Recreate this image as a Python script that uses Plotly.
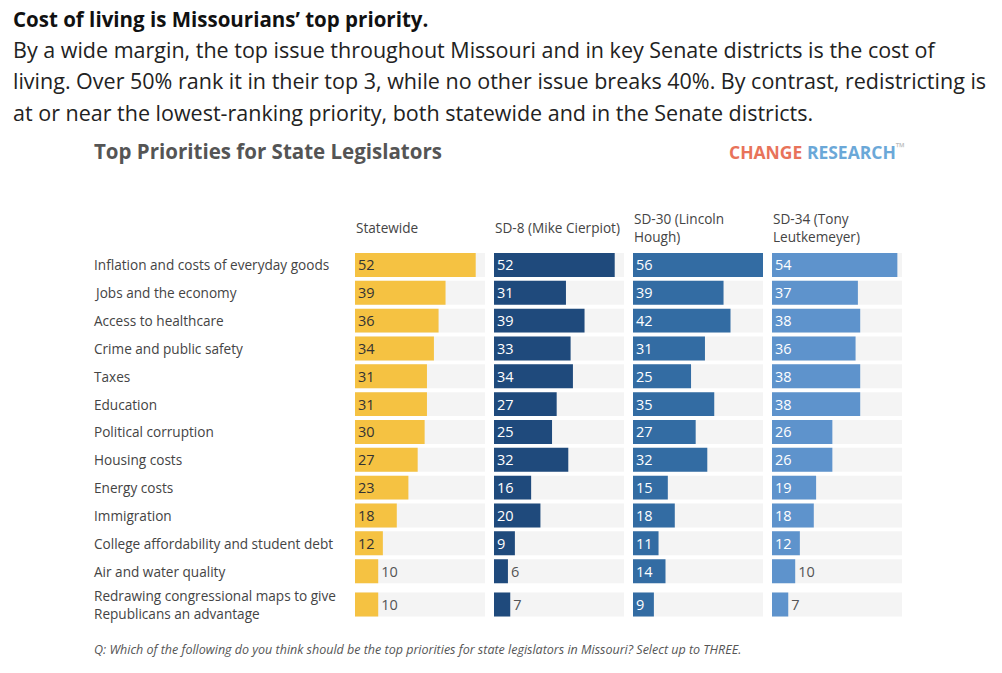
import plotly.graph_objects as go

# ---------------- data ----------------
categories = [
    "Inflation and costs of everyday goods",
    "Jobs and the economy",
    "Access to healthcare",
    "Crime and public safety",
    "Taxes",
    "Education",
    "Political corruption",
    "Housing costs",
    "Energy costs",
    "Immigration",
    "College affordability and student debt",
    "Air and water quality",
    "Redrawing congressional maps to give<br>Republicans an advantage",
]
series_names = ["Statewide", "SD-8 (Mike Cierpiot)", "SD-30 (Lincoln<br>Hough)", "SD-34 (Tony<br>Leutkemeyer)"]
statewide = [52, 39, 36, 34, 31, 31, 30, 27, 23, 18, 12, 10, 10]
sd8 = [52, 31, 39, 33, 34, 27, 25, 32, 16, 20, 9, 6, 7]
sd30 = [56, 39, 42, 31, 25, 35, 27, 32, 15, 18, 11, 14, 9]
sd34 = [54, 37, 38, 36, 38, 38, 26, 26, 19, 18, 12, 10, 7]
axis_max = 56

headline = "Cost of living is Missourians’ top priority."
body_lines = [
    "By a wide margin, the top issue throughout Missouri and in key Senate districts is the cost of",
    "living. Over 50% rank it in their top 3, while no other issue breaks 40%. By contrast, redistricting is",
    "at or near the lowest-ranking priority, both statewide and in the Senate districts.",
]
chart_title = "Top Priorities for State Legislators"
footnote = "Q: Which of the following do you think should be the top priorities for state legislators in Missouri? Select up to THREE."

# ---------------- style ----------------
W, H = 1002, 673
OFF = 8  # page body margin
FONT = "Open Sans"
colors = ["#F5C242", "#1F4A7C", "#336CA3", "#5E93CC"]
inside_text_colors = ["#333333", "#FFFFFF", "#FFFFFF", "#FFFFFF"]
track_color = "#F4F4F4"
panel_left, panel_w, panel_gap = 355, 130, 9
plot_top, plot_bottom = 251, 618.5
label_x = 92
text_left = 10.5
bar_font = 14.5
extra_gap_per_line = 0.2
bar_width = 0.86


def px_x(p):
    return (p - OFF) / W


def px_y(p):
    return 1 - (p - OFF) / H


# row positions: one step per row, a little extra before multi-line labels
row_pos = []
pos = 0.0
for k, c in enumerate(categories):
    if k > 0:
        pos += 1 + extra_gap_per_line * c.count("<br>")
    row_pos.append(pos)

fig = go.Figure()
all_series = [statewide, sd8, sd30, sd34]
for i, vals in enumerate(all_series):
    ax = "x" if i == 0 else f"x{i+1}"
    fig.add_trace(go.Bar(
        y=row_pos, x=[axis_max] * len(categories), orientation="h", width=bar_width,
        marker=dict(color=track_color, line=dict(width=0)),
        xaxis=ax, yaxis="y", hoverinfo="skip", showlegend=False,
    ))
    positions, tcolors = [], []
    for v in vals:
        bar_px = v / axis_max * panel_w
        text_px = 7.5 * len(str(v)) + 10
        if bar_px >= text_px:
            positions.append("inside")
            tcolors.append(inside_text_colors[i])
        else:
            positions.append("outside")
            tcolors.append("#555555")
    fig.add_trace(go.Bar(
        y=row_pos, x=vals, orientation="h", width=bar_width,
        marker=dict(color=colors[i], line=dict(width=0)),
        text=[str(v) for v in vals], textposition=positions,
        insidetextanchor="start", textangle=0,
        constraintext="none", cliponaxis=False,
        textfont=dict(family=FONT, size=bar_font, color=tcolors),
        customdata=categories,
        xaxis=ax, yaxis="y", showlegend=False,
        hovertemplate="%{customdata}: %{x}<extra></extra>",
    ))

layout = dict(
    width=W, height=H,
    margin=dict(l=0, r=0, t=0, b=0),
    paper_bgcolor="white", plot_bgcolor="white",
    barmode="overlay",
    font=dict(family=FONT, color="#444444"),
    yaxis=dict(
        domain=[px_y(plot_bottom), px_y(plot_top)],
        range=[row_pos[-1] + 0.5, -0.5],
        showticklabels=False, showgrid=False,
        zeroline=False, showline=False, ticks="",
    ),
)
for i in range(4):
    key = "xaxis" if i == 0 else f"xaxis{i+1}"
    x0 = panel_left + i * (panel_w + panel_gap)
    layout[key] = dict(
        domain=[px_x(x0), px_x(x0 + panel_w)], range=[0, axis_max],
        showticklabels=False, showgrid=False, zeroline=False, showline=False,
        ticks="", anchor="y",
    )
fig.update_layout(**layout)

ann = []
ann.append(dict(text=f"<b>{headline}</b>", x=px_x(text_left), y=px_y(19), xref="paper", yref="paper",
                xanchor="left", yanchor="middle", showarrow=False,
                font=dict(family=FONT, size=20.5, color="#111111")))
for k, line in enumerate(body_lines):
    ann.append(dict(text=line, x=px_x(text_left), y=px_y(49 + 31.5 * k), xref="paper", yref="paper",
                    xanchor="left", yanchor="middle", showarrow=False,
                    font=dict(family=FONT, size=21.5, color="#222222")))
ann.append(dict(text=f"<b>{chart_title}</b>", x=px_x(label_x), y=px_y(151), xref="paper", yref="paper",
                xanchor="left", yanchor="middle", showarrow=False,
                font=dict(family=FONT, size=20.5, color="#555555")))
ann.append(dict(text="<b><span style='color:#E8735A'>CHANGE</span> <span style='color:#6BA8D8'>RESEARCH</span></b><sup style='color:#BBBBBB'>™</sup>",
                x=px_x(727), y=px_y(151), xref="paper", yref="paper",
                xanchor="left", yanchor="middle", showarrow=False,
                font=dict(family=FONT, size=17.5)))
for i, name in enumerate(series_names):
    x0 = panel_left + i * (panel_w + panel_gap)
    ann.append(dict(text=name, x=px_x(x0 - 1), y=px_y(228), xref="paper", yref="paper",
                    xanchor="left", yanchor="middle", align="left", showarrow=False,
                    font=dict(family=FONT, size=13.6, color="#444444")))
for c, p in zip(categories, row_pos):
    ann.append(dict(text=c, x=px_x(label_x), y=p, xref="paper", yref="y",
                    xanchor="left", yanchor="middle", align="left", showarrow=False,
                    font=dict(family=FONT, size=13.6, color="#444444")))
ann.append(dict(text=f"<i>{footnote}</i>", x=px_x(label_x), y=px_y(649), xref="paper", yref="paper",
                xanchor="left", yanchor="middle", showarrow=False,
                font=dict(family=FONT, size=12.5, color="#555555")))
fig.update_layout(annotations=ann)

fig.write_html("out.html")
